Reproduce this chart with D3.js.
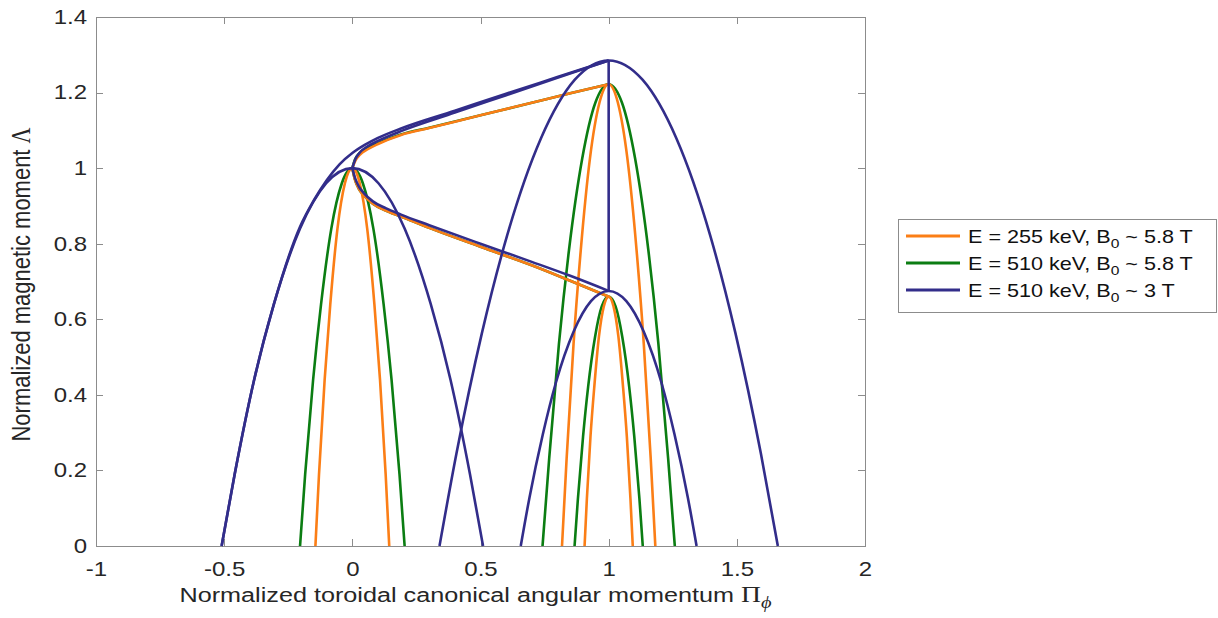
<!DOCTYPE html>
<html lang="en">
<head>
<meta charset="UTF-8">
<title>Lambda vs P_phi</title>
<script src="https://cdn.jsdelivr.net/npm/d3@7"></script>
<style>
    body { margin: 0; background: #fff; }
    .axis line { stroke: #8c8c8c; shape-rendering: crispEdges; }
    .axis path { display: none; }
    .axis text { font-family: "Liberation Sans", Arial, sans-serif; font-size: 20px; fill: #262626; }
    .lbl { font-family: "Liberation Sans", Arial, sans-serif; fill: #262626; }
    .leg { font-family: "Liberation Sans", Arial, sans-serif; font-size: 18px; fill: #111; }
</style>
</head>
<body>
<script>
// ---- data ([Pphi, Lambda]) ----
// E = 255 keV, B0 ~ 5.8 T
var orangeP0 = [[-0.144,0],[-0.13,0.19],[-0.108,0.44],[-0.086,0.64],[-0.058,0.84],[-0.029,0.96],[0,1],
                [0.029,0.96],[0.058,0.84],[0.086,0.64],[0.108,0.44],[0.13,0.19],[0.144,0]];
var orangeP1 = [[0.818,0],[0.836,0.232],[0.863,0.535],[0.891,0.782],[0.927,1.026],[0.964,1.173],[1,1.222],
                [1.036,1.173],[1.073,1.026],[1.109,0.782],[1.137,0.535],[1.164,0.232],[1.182,0]];
var orangeP2 = [[0.906,0],[0.915,0.125],[0.929,0.289],[0.944,0.422],[0.962,0.554],[0.981,0.634],[1,0.66],
                [1.019,0.634],[1.038,0.554],[1.056,0.422],[1.071,0.289],[1.085,0.125],[1.094,0]];
var orangeUp = [[0,1],[0.012,1.02],[0.03,1.036],[0.06,1.05],[0.1,1.064],[0.19,1.088],[0.3,1.106],
                [0.5,1.14],[0.7,1.173],[0.85,1.198],[1,1.222]];
var orangeLo = [[0,1],[0.01,0.97],[0.025,0.946],[0.045,0.928],[0.08,0.906],[0.13,0.888],[0.19,0.872],
                [0.3,0.842],[0.5,0.792],[0.7,0.743],[0.85,0.702],[1,0.66]];

// E = 510 keV, B0 ~ 5.8 T
var greenP0 = [[-0.204,0],[-0.184,0.19],[-0.153,0.44],[-0.122,0.64],[-0.082,0.84],[-0.041,0.96],[0,1],
               [0.041,0.96],[0.082,0.84],[0.122,0.64],[0.153,0.44],[0.184,0.19],[0.204,0]];
var greenP1 = [[0.742,0],[0.768,0.232],[0.806,0.535],[0.845,0.782],[0.897,1.026],[0.948,1.173],[1,1.222],
               [1.052,1.173],[1.103,1.026],[1.155,0.782],[1.194,0.535],[1.232,0.232],[1.258,0]];
var greenP2 = [[0.867,0],[0.88,0.125],[0.9,0.289],[0.92,0.422],[0.947,0.554],[0.973,0.634],[1,0.66],
               [1.027,0.634],[1.053,0.554],[1.08,0.422],[1.1,0.289],[1.12,0.125],[1.133,0]];
var greenUp = [[0,1],[0.01,1.022],[0.028,1.04],[0.06,1.054],[0.1,1.066],[0.19,1.089],[0.3,1.107],
               [0.5,1.14],[0.7,1.173],[0.85,1.198],[1,1.222]];
var greenLo = orangeLo;

// E = 510 keV, B0 ~ 3 T
var blueP0 = [[-0.51,0],[-0.459,0.19],[-0.383,0.44],[-0.306,0.64],[-0.204,0.84],[-0.102,0.96],[0,1],
              [0.102,0.96],[0.204,0.84],[0.306,0.64],[0.383,0.44],[0.459,0.19],[0.51,0]];
var blueP1 = [[0.34,0],[0.406,0.244],[0.505,0.562],[0.604,0.822],[0.736,1.079],[0.868,1.234],[1,1.285],
              [1.132,1.234],[1.264,1.079],[1.396,0.822],[1.495,0.562],[1.594,0.244],[1.66,0]];
var blueP2 = [[0.657,0],[0.691,0.128],[0.743,0.295],[0.794,0.432],[0.863,0.567],[0.931,0.648],[1,0.675],
              [1.069,0.648],[1.137,0.567],[1.206,0.432],[1.257,0.295],[1.309,0.128],[1.343,0]];
var blueOuter = [[-0.51,0],[-0.459,0.19],[-0.383,0.44],[-0.306,0.64],[-0.204,0.845],[-0.15,0.915],
                 [-0.1,0.968],[-0.05,1.01],[0,1.04],[0.05,1.062],[0.1,1.08],[0.19,1.105],
                 [0.4,1.152],[0.6,1.197],[0.8,1.241],[1,1.285]];
var blueUp = [[0,1],[0.012,1.024],[0.03,1.042],[0.06,1.058],[0.1,1.072],[0.19,1.098],[0.4,1.147],
              [0.6,1.193],[0.8,1.239],[1,1.285]];
var blueLo = [[0,1],[0.01,0.975],[0.025,0.952],[0.045,0.934],[0.08,0.912],[0.13,0.894],[0.19,0.877],
              [0.3,0.849],[0.5,0.8],[0.7,0.752],[0.85,0.715],[1,0.675]];
var blueVert = [[1,0.675],[1,1.285]];

var xTicks = [-1, -0.5, 0, 0.5, 1, 1.5, 2];
var yTicks = [0, 0.2, 0.4, 0.6, 0.8, 1, 1.2, 1.4];

var seriesNames = ["E = 255 keV, B", "E = 510 keV, B", "E = 510 keV, B"];
var seriesTails = [" ~ 5.8 T", " ~ 5.8 T", " ~ 3 T"];
var colors = ["#fb7e16", "#0b7d12", "#322d8a"];

// ---- canvas ----
var width = 1218, height = 618;
var padL = 96, padR = 865, padT = 17, padB = 546;
var stretch = 1.2;   // text in the source figure is drawn wider than normal

var svg = d3.select("body").append("svg")
    .attr("width", width)
    .attr("height", height);

var x = d3.scaleLinear().domain([-1, 2]).range([padL, padR]);
var y = d3.scaleLinear().domain([0, 1.4]).range([padB, padT]);

function num(d) { return String(d); }

// axes (ticks pointing inward, box like matlab)
var gx = svg.append("g").attr("class", "axis")
    .attr("transform", "translate(0," + padB + ")")
    .call(d3.axisBottom(x).tickValues(xTicks).tickSize(-7).tickPadding(16).tickFormat(num));
gx.selectAll("text").attr("transform", "scale(" + stretch + ",1)");
svg.append("g").attr("class", "axis")
    .attr("transform", "translate(0," + padT + ")")
    .call(d3.axisTop(x).tickValues(xTicks).tickSize(-7).tickFormat(""));
var gy = svg.append("g").attr("class", "axis")
    .attr("transform", "translate(" + padL + ",0)")
    .call(d3.axisLeft(y).tickValues(yTicks).tickSize(-7).tickFormat(num));
gy.selectAll("text").attr("x", -9 / stretch).attr("transform", "scale(" + stretch + ",1)");
svg.append("g").attr("class", "axis")
    .attr("transform", "translate(" + padR + ",0)")
    .call(d3.axisRight(y).tickValues(yTicks).tickSize(-7).tickFormat(""));

svg.append("rect")
    .attr("x", padL).attr("y", padT)
    .attr("width", padR - padL).attr("height", padB - padT)
    .attr("fill", "none").attr("stroke", "#8c8c8c").attr("stroke-width", 1)
    .attr("shape-rendering", "crispEdges");

// curves
var smooth = d3.line()
    .x(function (d) { return x(d[0]); })
    .y(function (d) { return y(d[1]); })
    .curve(d3.curveMonotoneX);
var straight = d3.line()
    .x(function (d) { return x(d[0]); })
    .y(function (d) { return y(d[1]); });

var plot = svg.append("g");
function draw(data, color, gen) {
    plot.append("path")
        .attr("d", (gen || smooth)(data))
        .attr("fill", "none")
        .attr("stroke", color)
        .attr("stroke-width", 2.6)
        .attr("stroke-linejoin", "round");
}

// green under orange, blue on top
[greenP0, greenP1, greenP2, greenUp, greenLo].forEach(function (d) { draw(d, colors[1]); });
[orangeP0, orangeP1, orangeP2, orangeUp, orangeLo].forEach(function (d) { draw(d, colors[0]); });
[blueP0, blueP1, blueP2, blueOuter, blueUp, blueLo].forEach(function (d) { draw(d, colors[2]); });
draw(blueVert, colors[2], straight);

// axis labels
var xl = svg.append("text").attr("class", "lbl")
    .attr("font-size", 21)
    .attr("transform", "translate(" + ((padL + padR) / 2 - 5) + ",602) scale(" + stretch + ",1)")
    .attr("text-anchor", "middle");
xl.append("tspan").text("Normalized toroidal canonical angular momentum ");
xl.append("tspan").attr("font-family", "'Liberation Serif', serif").attr("font-size", 23).text("\u03A0");
xl.append("tspan").attr("font-family", "'Liberation Serif', serif").attr("font-style", "italic")
    .attr("font-size", 17).attr("dy", 6).text("\u03D5");

var yl = svg.append("text").attr("class", "lbl")
    .attr("font-size", 22)
    .attr("transform", "translate(30," + ((padT + padB) / 2 + 3) + ") scale(" + stretch + ",1) rotate(-90)")
    .attr("text-anchor", "middle");
yl.append("tspan").text("Normalized magnetic moment ");
yl.append("tspan").attr("font-family", "'Liberation Serif', serif").text("\u039B");

// legend
var leg = svg.append("g").attr("transform", "translate(898,219)");
leg.append("rect")
    .attr("width", 318).attr("height", 93)
    .attr("fill", "#fff").attr("stroke", "#8c8c8c").attr("stroke-width", 1)
    .attr("shape-rendering", "crispEdges");
seriesNames.forEach(function (name, i) {
    var row = leg.append("g").attr("transform", "translate(0," + (17 + i * 27) + ")");
    row.append("line")
        .attr("x1", 8).attr("x2", 62).attr("y1", 0).attr("y2", 0)
        .attr("stroke", colors[i]).attr("stroke-width", 3);
    var t = row.append("text").attr("class", "leg")
        .attr("transform", "translate(70,7) scale(" + stretch + ",1)");
    t.append("tspan").text(name);
    t.append("tspan").attr("font-size", 13).attr("dy", 5).text("0");
    t.append("tspan").attr("dy", -5).text(seriesTails[i]);
});
</script>
</body>
</html>
